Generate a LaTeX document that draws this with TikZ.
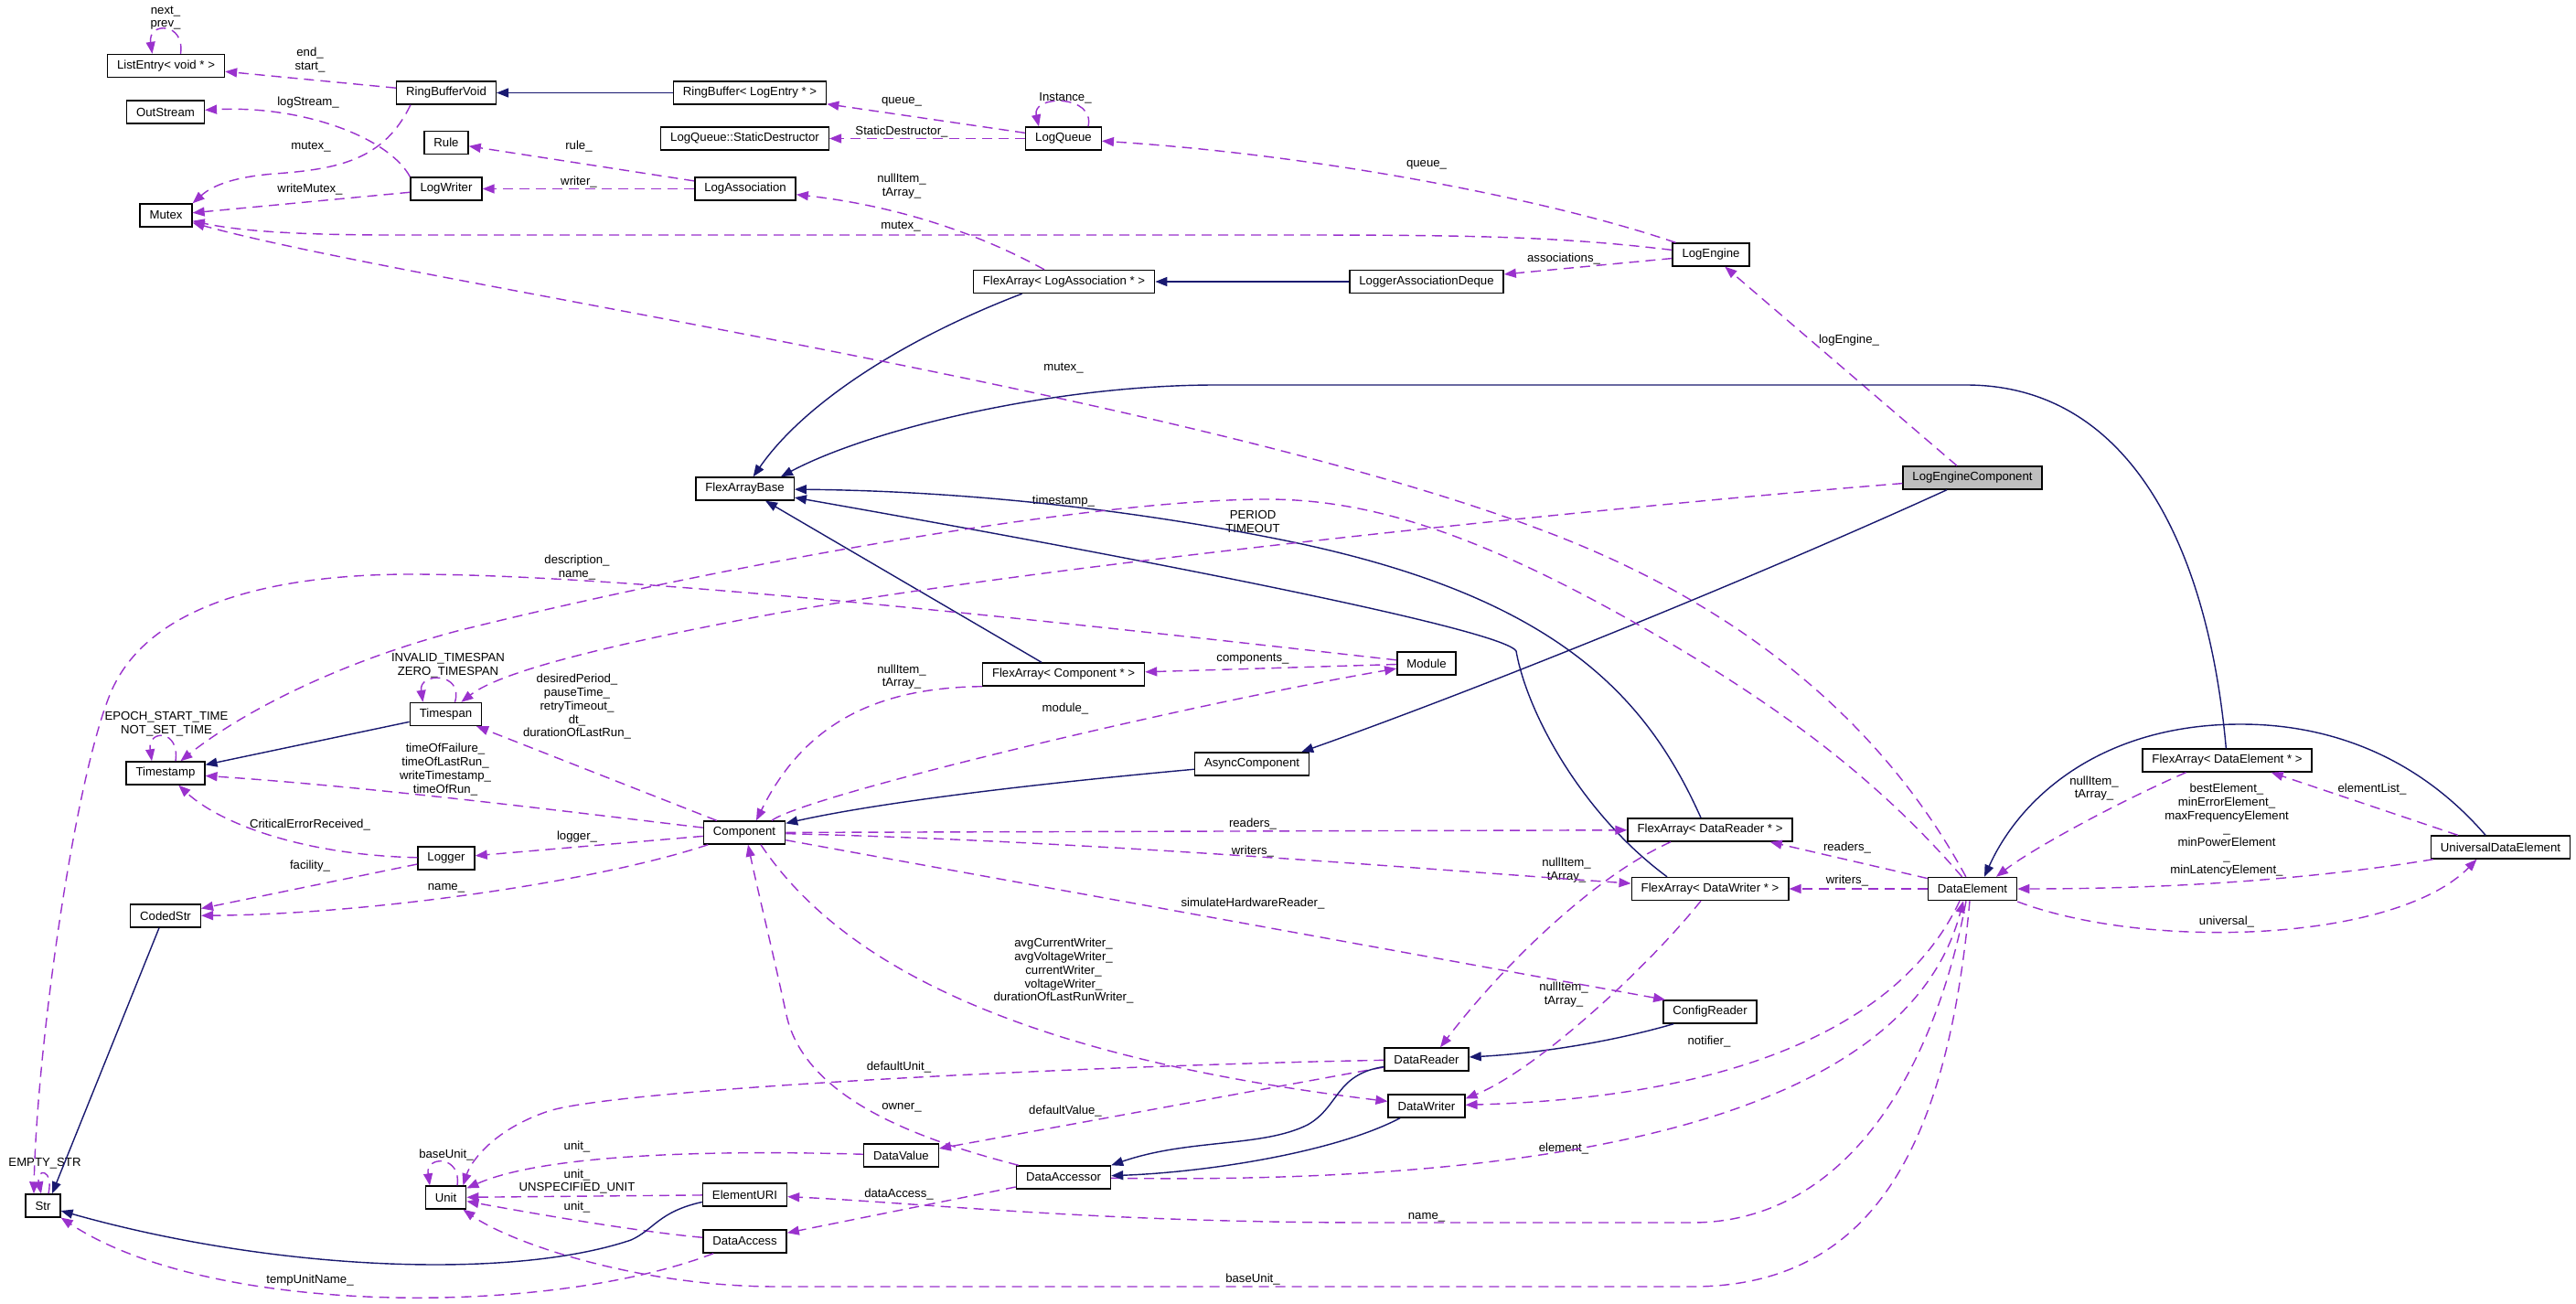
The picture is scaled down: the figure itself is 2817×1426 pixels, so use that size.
\documentclass[tikz,border=0pt]{standalone}
\usepackage{fontspec}
\setmainfont{Liberation Sans}
\usepackage{tikz}
\usetikzlibrary{arrows.meta}
\definecolor{depcol}{HTML}{9A32CD}
\definecolor{inhcol}{HTML}{191970}
\definecolor{curcol}{HTML}{BFBFBF}
\tikzset{
  cls/.style={draw=black, line width=0.8pt, fill=white, minimum height=0.5cm, inner xsep=0.21cm, inner ysep=0pt, font=\fontsize{7.5}{8.4}\selectfont},
  lbl/.style={inner sep=0pt, align=center, font=\fontsize{7.5}{8.4}\selectfont},
  dep/.style={draw=depcol, line width=0.8pt, dash pattern=on 0.22cm off 0.14cm, -{Triangle[length=0.26cm,width=0.2cm]}},
  inh/.style={draw=inhcol, line width=0.8pt, -{Triangle[length=0.26cm,width=0.2cm]}}
}

\begin{document}
\begin{tikzpicture}[x=0.02cm,y=-0.02cm]

\useasboundingbox (0,0) rectangle (2817,1426);
\fill[white] (0,0) rectangle (2817,1426);

\node[cls] (listentry) at (181.5,72) {ListEntry< void * >};
\node[cls] (rbvoid) at (488,101.5) {RingBufferVoid};
\node[cls] (rblog) at (820,101.5) {RingBuffer< LogEntry * >};
\node[cls] (outstream) at (181,122.5) {OutStream};
\node[cls] (staticd) at (814.5,151.5) {LogQueue::StaticDestructor};
\node[cls] (rule) at (488,156) {Rule};
\node[cls] (logqueue) at (1163,151.5) {LogQueue};
\node[cls] (logwriter) at (488,206.5) {LogWriter};
\node[cls] (logassoc) at (815,206.5) {LogAssociation};
\node[cls] (mutex) at (181.5,235.5) {Mutex};
\node[cls] (logengine) at (1871,278.5) {LogEngine};
\node[cls] (flexlog) at (1163.5,308) {FlexArray< LogAssociation * >};
\node[cls] (lassocdeque) at (1560,308) {LoggerAssociationDeque};
\node[cls, fill=curcol] (lecomp) at (2157,522.5) {LogEngineComponent};
\node[cls] (flexbase) at (814.5,534.5) {FlexArrayBase};
\node[cls] (module) at (1560,725.5) {Module};
\node[cls] (flexcomp) at (1163,737.5) {FlexArray< Component * >};
\node[cls] (timespan) at (487.5,781) {Timespan};
\node[cls] (asynccomp) at (1369,835.5) {AsyncComponent};
\node[cls] (timestamp) at (181,845.5) {Timestamp};
\node[cls] (flexelem) at (2435.5,831.5) {FlexArray< DataElement * >};
\node[cls] (component) at (814,910.5) {Component};
\node[cls] (flexreader) at (1870,907.5) {FlexArray< DataReader * >};
\node[cls] (universal) at (2734.5,926.5) {UniversalDataElement};
\node[cls] (logger) at (488,938.5) {Logger};
\node[cls] (flexwriter) at (1870,972) {FlexArray< DataWriter * >};
\node[cls] (dataelement) at (2157,972) {DataElement};
\node[cls] (codedstr) at (181,1001.5) {CodedStr};
\node[cls] (configreader) at (1870,1106.5) {ConfigReader};
\node[cls] (datareader) at (1560,1158.5) {DataReader};
\node[cls] (datawriter) at (1560,1209.5) {DataWriter};
\node[cls] (datavalue) at (985.5,1263.5) {DataValue};
\node[cls] (dataaccessor) at (1163,1287.5) {DataAccessor};
\node[cls] (elementuri) at (814.5,1306.5) {ElementURI};
\node[cls] (unit) at (487.5,1309.5) {Unit};
\node[cls] (str) at (47,1318.5) {Str};
\node[cls] (dataaccess) at (814.5,1357.5) {DataAccess};

\node[lbl] (l1) at (181,19.5) {next\_\\prev\_};
\node[lbl] (l2) at (339,65.5) {end\_\\start\_};
\node[lbl] (l3) at (337,112) {logStream\_};
\node[lbl] (l4) at (340,161) {mutex\_};
\node[lbl] (l5) at (339,207) {writeMutex\_};
\node[lbl] (l6) at (633,160) {rule\_};
\node[lbl] (l7) at (633,199) {writer\_};
\node[lbl] (l8) at (986,111) {queue\_};
\node[lbl] (l9) at (986,144) {StaticDestructor\_};
\node[lbl] (l10) at (1165,107) {Instance\_};
\node[lbl] (l11) at (1560,180) {queue\_};
\node[lbl] (l12) at (985,248) {mutex\_};
\node[lbl] (l13) at (1710,283) {associations\_};
\node[lbl] (l14) at (986,203.5) {nullItem\_\\tArray\_};
\node[lbl] (l15) at (2022,372) {logEngine\_};
\node[lbl] (l16) at (1163,403) {mutex\_};
\node[lbl] (l17) at (1163,548) {timestamp\_};
\node[lbl] (l18) at (1370,570.5) {PERIOD\\TIMEOUT};
\node[lbl] (l19) at (631,620.5) {description\_\\name\_};
\node[lbl] (l20) at (490,727.5) {INVALID\_TIMESPAN\\ZERO\_TIMESPAN};
\node[lbl] (l21) at (631,773) {desiredPeriod\_\\pauseTime\_\\retryTimeout\_\\dt\_\\durationOfLastRun\_};
\node[lbl] (l22) at (182,792) {EPOCH\_START\_TIME\\NOT\_SET\_TIME};
\node[lbl] (l23) at (487,841.5) {timeOfFailure\_\\timeOfLastRun\_\\writeTimestamp\_\\timeOfRun\_};
\node[lbl] (l24) at (339,902) {CriticalErrorReceived\_};
\node[lbl] (l25) at (631,915) {logger\_};
\node[lbl] (l26) at (339,947) {facility\_};
\node[lbl] (l27) at (488,971) {name\_};
\node[lbl] (l28) at (49,1272) {EMPTY\_STR};
\node[lbl] (l29) at (488,1263) {baseUnit\_};
\node[lbl] (l30) at (631,1254) {unit\_};
\node[lbl] (l31) at (631,1292) {unit\_\\UNSPECIFIED\_UNIT};
\node[lbl] (l32) at (631,1320) {unit\_};
\node[lbl] (l33) at (339,1400) {tempUnitName\_};
\node[lbl] (l34) at (1370,721) {components\_};
\node[lbl] (l35) at (986,740) {nullItem\_\\tArray\_};
\node[lbl] (l36) at (1165,775) {module\_};
\node[lbl] (l37) at (1370,901) {readers\_};
\node[lbl] (l38) at (1370,931) {writers\_};
\node[lbl] (l39) at (1370,988) {simulateHardwareReader\_};
\node[lbl] (l40) at (1163,1062) {avgCurrentWriter\_\\avgVoltageWriter\_\\currentWriter\_\\voltageWriter\_\\durationOfLastRunWriter\_};
\node[lbl] (l41) at (1713,951.5) {nullItem\_\\tArray\_};
\node[lbl] (l42) at (1710,1087.5) {nullItem\_\\tArray\_};
\node[lbl] (l43) at (1869,1139) {notifier\_};
\node[lbl] (l44) at (983,1167) {defaultUnit\_};
\node[lbl] (l45) at (986,1211) {owner\_};
\node[lbl] (l46) at (1165,1215) {defaultValue\_};
\node[lbl] (l47) at (1710,1256) {element\_};
\node[lbl] (l48) at (983,1306) {dataAccess\_};
\node[lbl] (l49) at (1560,1331) {name\_};
\node[lbl] (l50) at (1370,1399) {baseUnit\_};
\node[lbl] (l51) at (2020,927) {readers\_};
\node[lbl] (l52) at (2020,963) {writers\_};
\node[lbl] (l53) at (2290,862) {nullItem\_\\tArray\_};
\node[lbl] (l54) at (2435,907.5) {bestElement\_\\minErrorElement\_\\maxFrequencyElement\\\_\\minPowerElement\\\_\\minLatencyElement\_};
\node[lbl] (l55) at (2594,863) {elementList\_};
\node[lbl] (l56) at (2435,1008) {universal\_};

\draw[dep] ([xshift=0.32cm]listentry.north) .. controls +(5,-35) and +(-5,-35) .. ([xshift=-0.3cm]listentry.north);
\draw[dep] (rbvoid) -- (listentry);
\draw[dep] ([xshift=0.32cm]rbvoid.south west) .. controls (420,175) and (370,185) .. (300,190) .. controls (250,194) and (230,205) .. (mutex.north east);
\draw[dep] (logwriter.north west) .. controls (425,150) and (330,115) .. (outstream);
\draw[dep] (logwriter) -- (mutex);
\draw[inh] (rblog) -- (rbvoid);
\draw[dep] (logassoc) -- (rule);
\draw[dep] (logassoc) -- (logwriter);
\draw[dep] (logqueue) -- (rblog);
\draw[dep] (logqueue) -- (staticd);
\draw[dep] ([xshift=0.54cm]logqueue.north) .. controls +(8,-35) and +(-8,-35) .. ([xshift=-0.54cm]logqueue.north);
\draw[dep] (logengine) .. controls (1700,220) and (1450,170) .. (logqueue);
\draw[dep] (logengine) .. controls (1700,258) and (1600,257) .. (1400,257) -- (430,257) .. controls (300,257) and (250,250) .. (mutex);
\draw[dep] (logengine) -- (lassocdeque);
\draw[inh] (lassocdeque) -- (flexlog);
\draw[dep] ([xshift=-0.43cm]flexlog.north) .. controls (1070,255) and (980,225) .. (logassoc);
\draw[inh] ([xshift=1.08cm]flexlog.south west) .. controls (990,370) and (880,440) .. (flexbase);
\draw[dep] ([xshift=-0.34cm]lecomp.north) -- (logengine);
\draw[dep] (dataelement) .. controls (2080,830) and (1950,682) .. (1700,585) .. controls (1300,430) and (450,310) .. (mutex);
\draw[inh] (flexelem) .. controls (2415,600) and (2330,421) .. (2150,421) -- (1330,421) .. controls (1150,421) and (950,470) .. ([xshift=-0.3cm]flexbase.north east);
\draw[inh] ([xshift=-0.56cm]lecomp.south) .. controls (1900,640) and (1600,760) .. ([xshift=-0.18cm]asynccomp.north east);
\draw[inh] (asynccomp) .. controls (1100,860) and (950,880) .. (component);
\draw[inh] ([xshift=-0.2cm]flexreader.north) .. controls (1800,760) and (1700,650) .. (1400,590) .. controls (1150,540) and (950,536) .. (flexbase);
\draw[inh] ([xshift=-0.94cm]flexwriter.north) .. controls (1730,890) and (1670,780) .. (1658,712) .. controls (1645,690) and (1300,620) .. (flexbase);
\draw[inh] ([xshift=-0.48cm]flexcomp.north) -- (flexbase);
\draw[dep] (lecomp) .. controls (1800,551) and (1100,620) .. (800,680) .. controls (620,715) and (540,740) .. (timespan);
\draw[dep] (dataelement) .. controls (2060,860) and (1960,780) .. (1800,688) .. controls (1620,585) and (1500,546) .. (1385,546) .. controls (1200,546) and (800,615) .. (500,690) .. controls (350,730) and (250,790) .. (timestamp);
\draw[dep] (module) .. controls (1200,685) and (700,628) .. (450,628) .. controls (300,628) and (160,660) .. (120,760) .. controls (80,860) and (40,1150) .. ([xshift=-0.2cm]str.north);
\draw[dep] ([xshift=0.2cm]timespan.north) .. controls +(10,-33) and +(-5,-33) .. ([xshift=-0.5cm]timespan.north);
\draw[dep] ([xshift=0.22cm]timestamp.north) .. controls +(5,-35) and +(-5,-35) .. ([xshift=-0.3cm]timestamp.north);
\draw[dep] ([xshift=0.12cm]str.north) .. controls +(6,-28) and +(-6,-28) .. ([xshift=-0.04cm]str.north);
\draw[dep] ([xshift=0.25cm]unit.north) .. controls +(5,-33) and +(-5,-33) .. ([xshift=-0.35cm]unit.north);
\draw[inh] (timespan) -- (timestamp);
\draw[dep] ([xshift=0.3cm]component.north west) -- (timespan);
\draw[dep] (component) .. controls (600,885) and (400,860) .. (timestamp);
\draw[dep] (component) -- (logger);
\draw[dep] (logger) .. controls (330,935) and (240,900) .. (timestamp);
\draw[dep] (logger) -- (codedstr);
\draw[dep] (component) .. controls (650,965) and (400,1000) .. (codedstr);
\draw[inh] ([xshift=-0.14cm]codedstr.south) -- ([xshift=0.2cm]str.north);
\draw[dep] (flexcomp.south west) .. controls (960,752) and (880,790) .. ([xshift=0.26cm]component.north);
\draw[dep] (module) -- (flexcomp);
\draw[dep] ([xshift=0.6cm]component.north) .. controls (880,870) and (1300,770) .. (module);
\draw[dep] (component) -- (flexreader);
\draw[dep] (component) .. controls (1200,920) and (1550,950) .. (flexwriter);
\draw[dep] (component) -- ([xshift=0.06cm]configreader.north west);
\draw[dep] ([xshift=0.36cm]component.south) .. controls (930,1070) and (1150,1160) .. (datawriter);
\draw[dep] ([xshift=0.06cm]dataaccessor.north west) .. controls (1000,1245) and (880,1200) .. (860,1110) .. controls (845,1040) and (830,980) .. ([xshift=0.08cm]component.south);
\draw[dep] (datareader) .. controls (1200,1165) and (680,1190) .. (600,1215) .. controls (540,1235) and (515,1270) .. ([xshift=-0.08cm]unit.north east);
\draw[dep] (datareader) -- (datavalue);
\draw[dep] (datavalue) .. controls (800,1258) and (600,1260) .. (unit);
\draw[dep] (elementuri) -- (unit);
\draw[dep] (dataaccess) .. controls (700,1347) and (600,1330) .. (unit);
\draw[dep] ([xshift=-0.06cm]dataelement.south) .. controls (2130,1250) and (2050,1407) .. (1850,1407) -- (850,1407) .. controls (700,1407) and (560,1360) .. (unit);
\draw[dep] ([xshift=-0.14cm]dataelement.south) .. controls (2120,1150) and (2030,1337) .. (1850,1337) -- (1500,1337) .. controls (1200,1337) and (1000,1315) .. (elementuri);
\draw[dep] (dataaccessor) .. controls (1650,1295) and (2080,1240) .. ([xshift=-0.2cm]dataelement.south);
\draw[dep] ([xshift=-0.28cm]dataelement.south) .. controls (2080,1120) and (1900,1200) .. (datawriter);
\draw[dep] (dataaccessor) -- (dataaccess);
\draw[dep] (dataaccess) .. controls (600,1440) and (230,1440) .. (str);
\draw[inh] ([yshift=-0.16cm]elementuri.west) .. controls (720,1325) and (715,1345) .. (690,1356) .. controls (560,1400) and (300,1390) .. (str);
\draw[inh] ([xshift=0.24cm]configreader.south west) .. controls (1760,1140) and (1680,1152) .. (datareader);
\draw[inh] ([yshift=-0.16cm]datareader.west) .. controls (1460,1175) and (1465,1210) .. (1430,1230) .. controls (1380,1255) and (1300,1245) .. (dataaccessor.north east);
\draw[inh] ([xshift=-0.58cm]datawriter.south) .. controls (1460,1260) and (1320,1282) .. (dataaccessor);
\draw[dep] ([xshift=-0.86cm]flexreader.south) .. controls (1740,960) and (1640,1060) .. ([xshift=0.3cm]datareader.north);
\draw[dep] ([xshift=-0.2cm]flexwriter.south) .. controls (1800,1060) and (1680,1170) .. ([yshift=0.16cm]datawriter.east);
\draw[dep] (dataelement) -- ([xshift=-0.5cm]flexreader.south east);
\draw[dep] (dataelement) -- (flexwriter);
\draw[dep] ([xshift=-0.9cm]flexelem.south) .. controls (2310,880) and (2220,930) .. ([xshift=0.52cm]dataelement.north);
\draw[inh] ([xshift=-0.33cm]universal.north) .. controls (2620,800) and (2500,792) .. (2450,792) .. controls (2300,792) and (2210,870) .. ([xshift=0.26cm]dataelement.north);
\draw[dep] ([xshift=0.06cm]universal.south west) .. controls (2550,958) and (2400,972) .. (dataelement);
\draw[dep] ([xshift=0.6cm]universal.north west) -- ([xshift=-0.9cm]flexelem.south east);
\draw[dep] ([yshift=-0.28cm]dataelement.east) .. controls (2350,1040) and (2620,1030) .. ([xshift=-0.52cm]universal.south);
\end{tikzpicture}
\end{document}
